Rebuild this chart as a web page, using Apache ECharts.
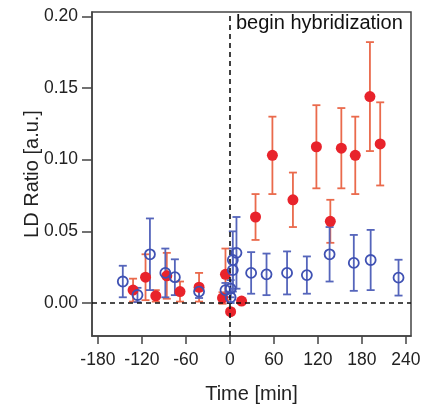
<!DOCTYPE html>
<html>
<head>
<meta charset="utf-8">
<script src="https://cdn.jsdelivr.net/npm/echarts@6/dist/echarts.min.js"></script>
<style>
  html, body { margin: 0; padding: 0; background: #fff; }
  #chart { width: 424px; height: 406px; }
</style>
</head>
<body>
<div id="chart"></div>
<script>
// values
var xTicks = [-180, -120, -60, 0, 60, 120, 180, 240];
var yTicks = [0, 0.05, 0.10, 0.15, 0.20];

var redTime  = [-132, -115, -101, -86, -68, -42, -10, -6, 1, 16, 35, 58, 86, 118, 137, 152, 171, 191, 205];
var redValue = [0.009, 0.018, 0.005, 0.019, 0.008, 0.011, 0.0035, 0.020, -0.006, 0.0014, 0.060, 0.103, 0.072, 0.109, 0.057, 0.108, 0.103, 0.144, 0.111];
var redError = [0.008, 0.016, 0.004, 0.016, 0.007, 0.010, 0.004, 0.018, 0.002, 0, 0.016, 0.027, 0.019, 0.029, 0.015, 0.028, 0.027, 0.038, 0.029];

var blueTime  = [-146, -126, -109, -88, -75, -42, -6, 1, 1, 4, 4, 9, 29, 50, 78, 105, 136, 169, 192, 230];
var blueValue = [0.015, 0.0056, 0.034, 0.021, 0.018, 0.008, 0.009, 0.004, 0.010, 0.023, 0.030, 0.035, 0.021, 0.020, 0.021, 0.0195, 0.034, 0.028, 0.030, 0.0177];
var blueError = [0.011, 0.005, 0.025, 0.017, 0.0125, 0.0045, 0.005, 0.004, 0.006, 0.015, 0.020, 0.025, 0.0145, 0.0145, 0.015, 0.013, 0.019, 0.0195, 0.021, 0.0125];

var font = 'Liberation Sans, Arial, sans-serif';

function points(t, v) {
    return t.map(function (x, i) { return [x, v[i]]; });
}
function bars(t, v, e) {
    return t.map(function (x, i) { return [x, v[i] - e[i], v[i] + e[i]]; });
}

// vertical error bar with caps
function errorBar(color) {
    return function (params, api) {
        var lo = api.coord([api.value(0), api.value(1)]);
        var hi = api.coord([api.value(0), api.value(2)]);
        var w = 4;
        var style = { stroke: color, lineWidth: 1.8 };
        return {
            type: 'group',
            children: [
                { type: 'line', shape: { x1: lo[0], y1: lo[1], x2: hi[0], y2: hi[1] }, style: style },
                { type: 'line', shape: { x1: lo[0] - w, y1: lo[1], x2: lo[0] + w, y2: lo[1] }, style: style },
                { type: 'line', shape: { x1: hi[0] - w, y1: hi[1], x2: hi[0] + w, y2: hi[1] }, style: style }
            ]
        };
    };
}

var myChart = echarts.init(document.getElementById('chart'));

var option = {
    animation: false,
    grid: {
        left: 92,
        right: 13,
        top: 12,
        bottom: 70,
        outerBoundsMode: 'none',
        show: true,
        borderColor: '#444',
        borderWidth: 1.5
    },
    graphic: [{
        type: 'text',
        left: 236,
        top: 13,
        style: { text: 'begin hybridization', fontSize: 20, fontFamily: font, fill: '#111' }
    }],
    xAxis: {
        type: 'value',
        min: -188,
        max: 247,
        name: 'Time [min]',
        nameLocation: 'middle',
        nameGap: 48,
        nameTextStyle: { fontSize: 20, fontFamily: font, color: '#222' },
        axisLine: { onZero: false, lineStyle: { color: '#444', width: 1.5 } },
        axisTick: { customValues: xTicks, length: 8, lineStyle: { color: '#444', width: 1.5 } },
        axisLabel: { customValues: xTicks, fontSize: 17.5, fontFamily: font, color: '#222', margin: 15 },
        splitLine: { show: false }
    },
    yAxis: {
        type: 'value',
        min: -0.023,
        max: 0.203,
        name: 'LD Ratio [a.u.]',
        nameLocation: 'middle',
        nameGap: 50,
        nameMoveOverlap: false,
        nameTextStyle: { fontSize: 20, fontFamily: font, color: '#222' },
        axisLine: { onZero: false, lineStyle: { color: '#444', width: 1.5 } },
        axisTick: { customValues: yTicks, length: 10, lineStyle: { color: '#444', width: 1.5 } },
        axisLabel: {
            customValues: yTicks, fontSize: 17.5, fontFamily: font, color: '#222', margin: 14,
            formatter: function (v) { return v.toFixed(2); }
        },
        splitLine: { show: false }
    },
    series: [
        {
            type: 'custom',
            renderItem: errorBar('#ea6a4c'),
            encode: { x: 0, y: [1, 2] },
            data: bars(redTime, redValue, redError),
            z: 2
        },
        {
            type: 'custom',
            renderItem: errorBar('#5565bb'),
            encode: { x: 0, y: [1, 2] },
            data: bars(blueTime, blueValue, blueError),
            z: 3
        },
        {
            type: 'scatter',
            symbolSize: 11,
            itemStyle: { color: '#e8232b', opacity: 1 },
            data: points(redTime, redValue),
            z: 4,
            markLine: {
                silent: true,
                symbol: 'none',
                label: { show: false },
                lineStyle: { color: '#111', type: [5, 4], width: 1.6 },
                data: [{ xAxis: 0 }, { yAxis: 0 }]
            }
        },
        {
            type: 'scatter',
            symbol: 'circle',
            symbolSize: 10,
            itemStyle: { color: 'rgba(255,255,255,0)', borderColor: '#3f51b3', borderWidth: 1.8, opacity: 1 },
            data: points(blueTime, blueValue),
            z: 5
        }
    ]
};

myChart.setOption(option);
</script>
</body>
</html>
